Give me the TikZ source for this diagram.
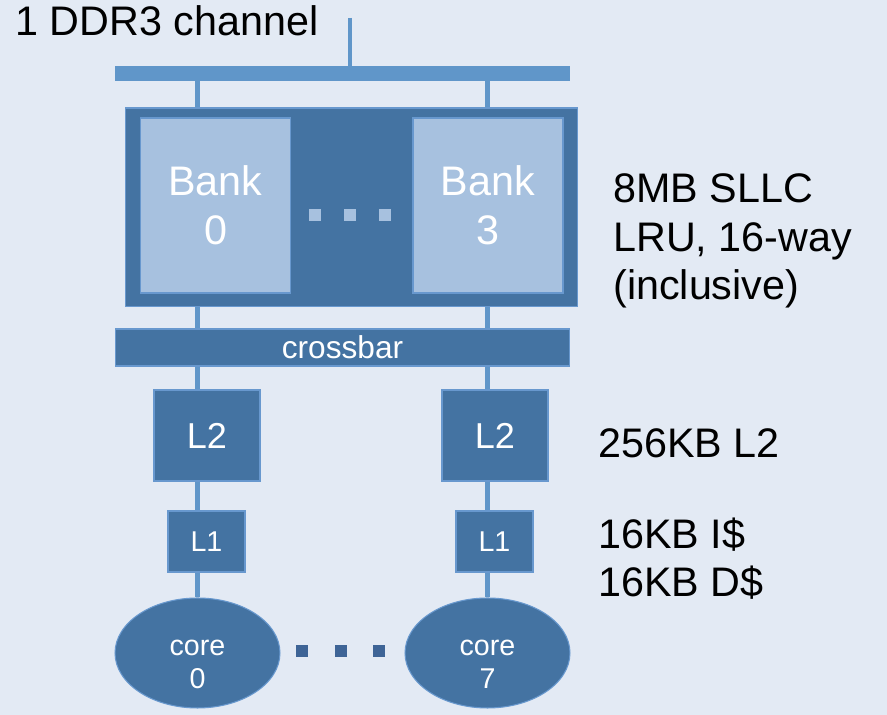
\documentclass[tikz,border=0pt]{standalone}
\usepackage{fontspec}
\setmainfont{Liberation Sans}
\usetikzlibrary{shapes.geometric}

\definecolor{bgblue}{RGB}{227,234,244}
\definecolor{busblue}{RGB}{96,150,201}
\definecolor{boxblue}{RGB}{68,115,162}
\definecolor{bankblue}{RGB}{167,193,223}
\definecolor{edgeblue}{RGB}{104,152,206}
\definecolor{dotblue}{RGB}{62,100,150}

\newcommand\txtbig{\fontsize{23.5}{27.8}\selectfont}
\newcommand\txtmid{\fontsize{18}{21}\selectfont}
\newcommand\txtltwo{\fontsize{20.5}{24}\selectfont}
\newcommand\txtsmall{\fontsize{16.3}{18.8}\selectfont}
% pushes the two-line core labels a bit below the middle
\newcommand\coretop{\rule{0pt}{22pt}}

\tikzset{
  wire/.style={busblue, line width=2.8pt},
  unit/.style={rectangle, fill=boxblue, draw=edgeblue, line width=0.6pt,
    text=white, inner sep=0pt},
  bank/.style={unit, fill=bankblue, minimum width=3cm, minimum height=3.5cm,
    align=center, font=\txtbig},
  core/.style={ellipse, fill=boxblue, draw=edgeblue, line width=0.6pt,
    text=white, inner sep=0pt, minimum width=3.3cm, minimum height=2.2cm,
    align=center, font=\txtsmall},
  dotbox/.style={rectangle, inner sep=0pt, minimum size=0.23cm},
  info/.style={anchor=base west, inner sep=0pt, align=left, font=\txtbig}
}

\begin{document}
\begin{tikzpicture}[x=0.02cm, y=-0.02cm]
	\fill[bgblue] (0,0) rectangle (887,715);
	\useasboundingbox (0,0) rectangle (887,715);

	% memory channel and shared LLC
	\node[info] (chanlbl) at (15,36) {1 DDR3 channel};
	\coordinate (chan) at (350,18);
	\node[rectangle, fill=busblue, inner sep=0pt, minimum width=9.1cm,
		minimum height=0.3cm] (ddr) at (342.5,73.5) {};
	\node[unit, minimum width=9.06cm, minimum height=3.98cm] (sllc) at (351.5,207.5) {};
	\node[bank] (bank0) at (215.5,205.5) {Bank\\0};
	\node[bank] (bank3) at (488,205.5) {Bank\\3};
	\foreach \x [count=\i] in {315,350,385}
		\node[dotbox, fill=bankblue] (bdot\i) at (\x,215) {};

	\node[unit, minimum width=9.1cm, minimum height=0.74cm, font=\txtmid] (xbar) at (342.5,347.5) {crossbar};

	% private caches and cores
	\node[unit, minimum width=2.12cm, minimum height=1.82cm, font=\txtltwo] (l2a) at (207,435.5) {L2};
	\node[unit, minimum width=2.12cm, minimum height=1.82cm, font=\txtltwo] (l2b) at (495,435.5) {L2};
	\node[unit, minimum width=1.54cm, minimum height=1.22cm, font=\txtsmall] (l1a) at (206.5,541.5) {L1};
	\node[unit, minimum width=1.54cm, minimum height=1.22cm, font=\txtsmall] (l1b) at (494.5,541.5) {L1};
	\node[core] (core0) at (197.5,653) {\coretop core\\0};
	\node[core] (core7) at (487.5,653) {\coretop core\\7};
	\foreach \x [count=\i] in {302,341,379}
		\node[dotbox, fill=dotblue, minimum size=0.24cm] (cdot\i) at (\x,651) {};

	% wires
	\draw[wire] (chan) -- (chan |- ddr.north);
	\foreach \c in {core0,core7} {
		\draw[wire] (ddr.south -| \c) -- (sllc.north -| \c);
		\draw[wire] (sllc.south -| \c) -- (xbar.north -| \c);
	}
	\draw[wire] (xbar.south -| core0) -- (l2a.north -| core0);
	\draw[wire] (l2a.south -| core0) -- (l1a.north -| core0);
	\draw[wire] (l1a.south -| core0) -- (core0.north);
	\draw[wire] (xbar.south -| core7) -- (l2b.north -| core7);
	\draw[wire] (l2b.south -| core7) -- (l1b.north -| core7);
	\draw[wire] (l1b.south -| core7) -- (core7.north);

	% sizes (base anchor sits on the last line)
	\node[info] (sllcinfo) at (613,300) {8MB SLLC\\LRU, 16-way\\(inclusive)};
	\node[info] (l2info) at (598,458) {256KB L2};
	\node[info] (l1info) at (598,597) {16KB I\$\\16KB D\$};
\end{tikzpicture}
\end{document}
